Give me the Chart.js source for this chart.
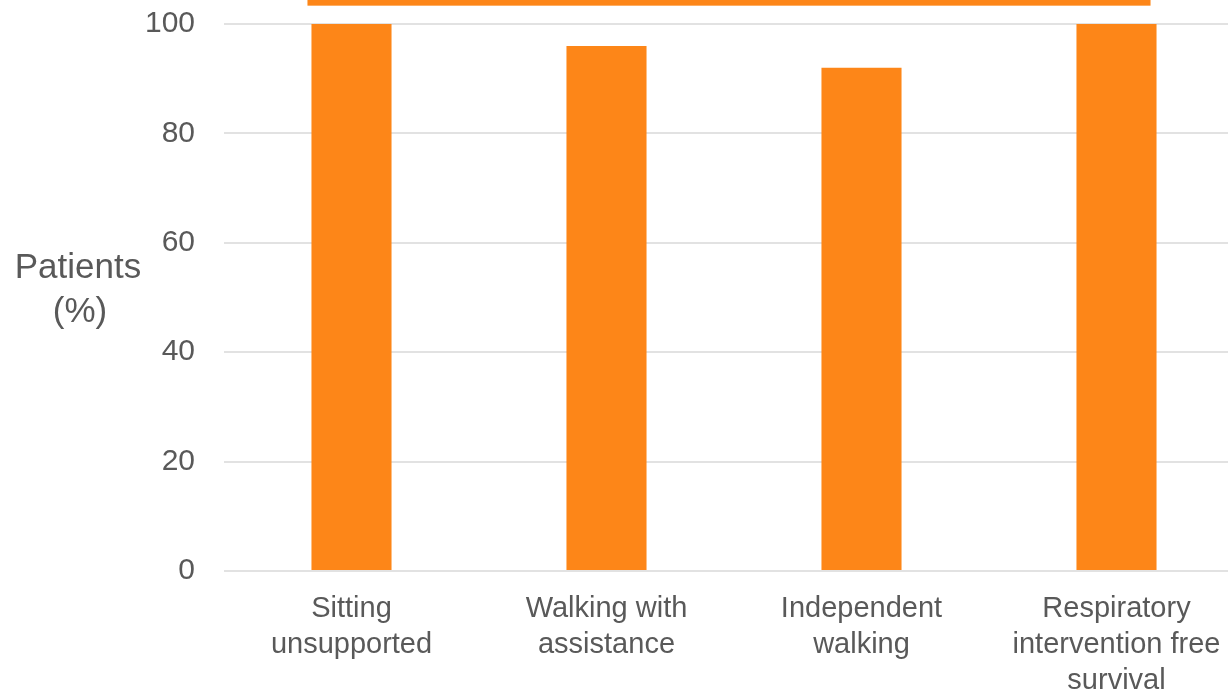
<!DOCTYPE html>
<html>
<head>
<meta charset="utf-8">
<script src="https://cdn.jsdelivr.net/npm/chart.js@4.4.1/dist/chart.umd.min.js"></script>
<style>
  html, body { margin: 0; padding: 0; background: #fff; overflow: hidden; }
  #wrap { width: 1228px; height: 695px; overflow: hidden; position: relative; }
  #grafico { display: block; }
</style>
</head>
<body>
<div id="wrap">
  <canvas id="grafico" width="1244" height="695"></canvas>
</div>
<script>
/* Hitos motores y supervivencia — barras verticales */

const CATEGORIAS = [
  ["Sitting", "unsupported"],
  ["Walking with", "assistance"],
  ["Independent", "walking"],
  ["Respiratory", "intervention free", "survival"],
]
const PACIENTES = [100, 96, 92, 100]
const TICKS_Y = [0, 20, 40, 60, 80, 100]
const TITULO_Y = ["Patients", "(%)"]
const NIVEL_BARRA_SUPERIOR = 103.9

const NARANJA = "#FD8618"
const GRIS_TEXTO = "#595959"
const FUENTE = "'Liberation Sans', Arial, sans-serif"

// barra horizontal sobre todas las columnas + título del eje Y horizontal
const extras = {
  id: "extras",
  afterDatasetsDraw(chart) {
    const { ctx, scales } = chart
    const barras = chart.getDatasetMeta(0).data
    const izq = barras[0].x - barras[0].width / 2 - 4
    const der = barras[barras.length - 1].x + barras[barras.length - 1].width / 2 - 6
    const y = scales.y.getPixelForValue(NIVEL_BARRA_SUPERIOR)
    ctx.save()
    ctx.fillStyle = NARANJA
    ctx.fillRect(izq, y - 3, der - izq, 6)
    ctx.restore()
  },
  afterDraw(chart) {
    const { ctx, scales } = chart
    const yc = scales.y.getPixelForValue(50)
    ctx.save()
    ctx.fillStyle = GRIS_TEXTO
    ctx.font = "35px " + FUENTE
    ctx.textAlign = "center"
    ctx.textBaseline = "middle"
    ctx.fillText(TITULO_Y[0], 78, yc - 29)
    ctx.fillText(TITULO_Y[1], 80, yc + 15)
    ctx.restore()
  }
}

new Chart(document.getElementById("grafico"), {
  type: "bar",
  data: {
    labels: CATEGORIAS,
    datasets: [{
      data: PACIENTES,
      backgroundColor: NARANJA,
      barPercentage: 0.314,
      categoryPercentage: 1,
    }]
  },
  options: {
    responsive: false,
    animation: false,
    layout: { padding: { top: 24, right: 0, bottom: 0, left: 0 } },
    plugins: { legend: { display: false }, tooltip: { enabled: false } },
    scales: {
      x: {
        grid: { display: false, drawTicks: false },
        border: { display: false },
        ticks: {
          color: GRIS_TEXTO,
          font: { family: FUENTE, size: 29, lineHeight: 1.24 },
          padding: 20,
          maxRotation: 0,
          autoSkip: false,
        },
        afterFit: s => { s.height = 124 },
      },
      y: {
        min: 0,
        max: 100,
        afterBuildTicks: s => { s.ticks = TICKS_Y.map(v => ({ value: v })) },
        grid: { color: "#e2e2e2", lineWidth: 2, drawTicks: false },
        border: { display: false },
        ticks: {
          color: GRIS_TEXTO,
          font: { family: FUENTE, size: 30 },
          padding: 29,
        },
        afterFit: s => {
          s.width = 224
          s.paddingTop = 0
          s.paddingBottom = 0
        },
      }
    }
  },
  plugins: [extras]
})
</script>
</body>
</html>
